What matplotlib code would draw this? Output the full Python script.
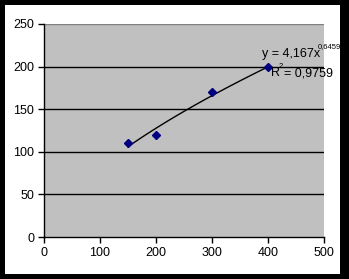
import numpy as np
import matplotlib
matplotlib.use("Agg")
import matplotlib.pyplot as plt
from matplotlib.patches import Rectangle

x_vals = [150, 200, 300, 400]
y_vals = [110, 120, 170, 200]
coef_a = 4.167
coef_b = 0.6459
eq_main = "y = 4,167x"
eq_exp = "0,6459"
r2_main = "= 0,9759"
x_ticks = [0, 100, 200, 300, 400, 500]
y_ticks = [0, 50, 100, 150, 200, 250]

plt.rcParams['font.family'] = ['Liberation Sans', 'DejaVu Sans']

W, H = 349, 279
fig = plt.figure(figsize=(W/100, H/100), dpi=100, facecolor='black')
fig.patches.append(Rectangle((5/W, 5/H), (340-5)/W, (274-5)/H, transform=fig.transFigure,
                             facecolor='white', edgecolor='none', zorder=-10))

ax = fig.add_axes([44/W, (H-237)/H, (324-44)/W, (237-24)/H])
ax.set_facecolor('#c0c0c0')
ax.set_xlim(0, 500)
ax.set_ylim(0, 250)
ax.set_xticks(x_ticks)
ax.set_yticks(y_ticks)
for s in ['top', 'right']:
    ax.spines[s].set_visible(False)
ax.spines['left'].set_color('black')
ax.spines['bottom'].set_color('black')
ax.spines['left'].set_linewidth(1)
ax.spines['bottom'].set_linewidth(1)
ax.axhline(250, color='#808080', lw=1, zorder=1)
for yv in y_ticks[1:-1]:
    ax.axhline(yv, color='black', lw=1, zorder=1)
ax.tick_params(direction='out', length=4, width=1, labelsize=9, colors='black', pad=3)

xs = np.linspace(min(x_vals), max(x_vals), 100)
ax.plot(xs, coef_a * xs**coef_b, color='black', lw=1, zorder=2)
ax.plot(x_vals, y_vals, linestyle='none', marker='D', markersize=4,
        color='#000080', zorder=3)

def ftext(px, py, s, size, ha='left'):
    fig.text(px / W, 1 - py / H, s, fontsize=size, ha=ha, va='center', zorder=5)

ftext(262, 54, eq_main, 9)
ftext(318, 47, eq_exp, 5.5)
ftext(271, 73, "R", 9)
ftext(279, 67, "2", 5.5)
ftext(333, 73, r2_main, 9, ha='right')

fig.savefig('out.png', dpi=100, facecolor=fig.get_facecolor())
